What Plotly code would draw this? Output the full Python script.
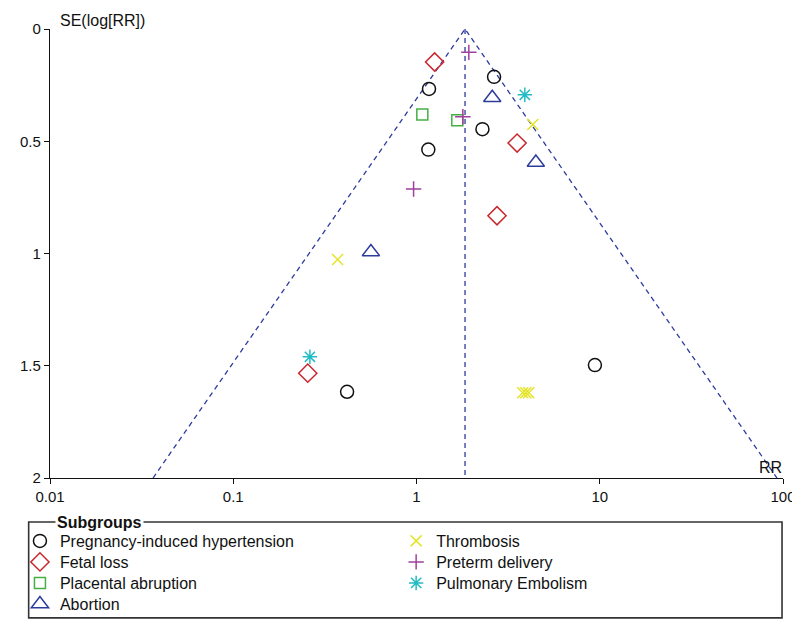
import math
import plotly.graph_objects as go

# ---------------- data ----------------
pooled_rr = 1.84
funnel_se_max = 2.0

pih_rr = [2.65, 1.17, 2.29, 1.16, 0.418, 9.41]
pih_se = [0.213, 0.267, 0.446, 0.537, 1.616, 1.497]

fetal_rr = [1.256, 3.54, 2.75, 0.255]
fetal_se = [0.147, 0.508, 0.832, 1.533]

plac_rr = [1.076, 1.67]
plac_se = [0.381, 0.406]

abort_rr = [2.59, 4.48, 0.564]
abort_se = [0.306, 0.595, 0.993]

thromb_rr = [4.31, 0.371, 3.80, 3.95, 4.10]
thromb_se = [0.425, 1.027, 1.62, 1.62, 1.62]

preterm_rr = [1.93, 1.79, 0.964]
preterm_se = [0.104, 0.391, 0.713]

pe_rr = [3.90, 0.262]
pe_se = [0.293, 1.46]

x_tickvals = [0.01, 0.1, 1, 10, 100]
x_ticktext = ["0.01", "0.1", "1", "10", "100"]
y_tickvals = [0, 0.5, 1, 1.5, 2]
y_ticktext = ["0", "0.5", "1", "1.5", "2"]

# ---------------- figure ----------------
W, H = 800, 625
ML, MR, MT, MB = 31, 13, 17, 149
PW, PH = W - ML - MR, H - MT - MB

def px_x(p):
    return (p - ML) / PW

def px_y(p):
    return (H - MB - p) / PH

FONT = "Liberation Sans, Arial, sans-serif"
DASH_COLOR = "#2d3a9e"

fig = go.Figure()

# funnel lines
lo = math.exp(math.log(pooled_rr) - 1.96 * funnel_se_max)
hi = math.exp(math.log(pooled_rr) + 1.96 * funnel_se_max)
fig.add_trace(go.Scatter(x=[lo, pooled_rr, hi], y=[funnel_se_max, 0, funnel_se_max],
                         mode="lines", line=dict(color=DASH_COLOR, width=1.3, dash="5px,4px"),
                         showlegend=False, hoverinfo="skip"))
fig.add_trace(go.Scatter(x=[pooled_rr, pooled_rr], y=[0, funnel_se_max],
                         mode="lines", line=dict(color=DASH_COLOR, width=1.3, dash="5px,4px"),
                         showlegend=False, hoverinfo="skip"))

# (name, x, y, symbol, colour, size, legend column x px, legend row centre px)
series = [
    ("Pregnancy-induced hypertension", pih_rr, pih_se, "circle-open", "#111111", 13, 0, 542),
    ("Fetal loss", fetal_rr, fetal_se, "diamond-open", "#c8282d", 14, 0, 563.5),
    ("Placental abruption", plac_rr, plac_se, "square-open", "#44b044", 11, 0, 585),
    ("Abortion", abort_rr, abort_se, "triangle-up-open", "#2c3c9c", 15, 0, 606.5),
    ("Thrombosis", thromb_rr, thromb_se, "x-thin-open", "#e4e42a", 11, 388, 542),
    ("Preterm delivery", preterm_rr, preterm_se, "cross-thin-open", "#a0409c", 11, 388, 563.5),
    ("Pulmonary Embolism", pe_rr, pe_se, "asterisk-open", "#22bcc4", 12, 388, 585),
]

legend_layout = {}
for i, (name, xs, ys, sym, col, size, lx, ly) in enumerate(series):
    key = "legend" if i == 0 else f"legend{i + 1}"
    fig.add_trace(go.Scatter(x=xs, y=ys, mode="markers", name=name, legend=key,
                             marker=dict(symbol=sym, size=size, color=col,
                                         line=dict(color=col, width=1.5))))
    legend_layout[key] = dict(font=dict(family=FONT, size=16, color="#111111"),
                              bgcolor="rgba(0,0,0,0)", borderwidth=0,
                              xanchor="left", yanchor="top", itemsizing="trace",
                              x=px_x(lx), y=px_y(ly - 19))

fig.update_layout(
    width=W, height=H,
    margin=dict(l=ML, r=MR, t=MT, b=MB),
    paper_bgcolor="white", plot_bgcolor="white",
    font=dict(family=FONT, size=15, color="#111111"),
    showlegend=True,
    xaxis=dict(type="log", range=[-2, 2], tickvals=x_tickvals, ticktext=x_ticktext,
               showgrid=False, zeroline=False, showline=True, linecolor="#111111", linewidth=1.3,
               ticks="outside", ticklen=5, tickcolor="#111111", tickwidth=1.3,
               tickfont=dict(family=FONT, size=15, color="#111111")),
    yaxis=dict(range=[2, 0], tickvals=y_tickvals, ticktext=y_ticktext,
               showgrid=False, zeroline=False, showline=True, linecolor="#111111", linewidth=1.3,
               ticks="outside", ticklen=5, tickcolor="#111111", tickwidth=1.3,
               tickfont=dict(family=FONT, size=15, color="#111111")),
    shapes=[dict(type="rect", xref="paper", yref="paper",
                 x0=px_x(9), x1=px_x(786), y0=px_y(619), y1=px_y(521),
                 line=dict(color="#333333", width=1.6), fillcolor="rgba(0,0,0,0)", layer="below")],
    annotations=[
        dict(text="SE(log[RR])", xref="paper", yref="paper", x=px_x(39), y=px_y(8),
             xanchor="left", yanchor="middle", showarrow=False,
             font=dict(family=FONT, size=16, color="#111111")),
        dict(text="RR", xref="paper", yref="paper", x=px_x(788), y=px_y(465),
             xanchor="right", yanchor="middle", showarrow=False,
             font=dict(family=FONT, size=16, color="#111111")),
        dict(text="<b>Subgroups</b>", xref="paper", yref="paper", x=px_x(36), y=px_y(521),
             xanchor="left", yanchor="middle", showarrow=False, bgcolor="white", borderpad=1,
             font=dict(family=FONT, size=16, color="#111111")),
    ],
    **legend_layout,
)

fig.write_html("out.html")
